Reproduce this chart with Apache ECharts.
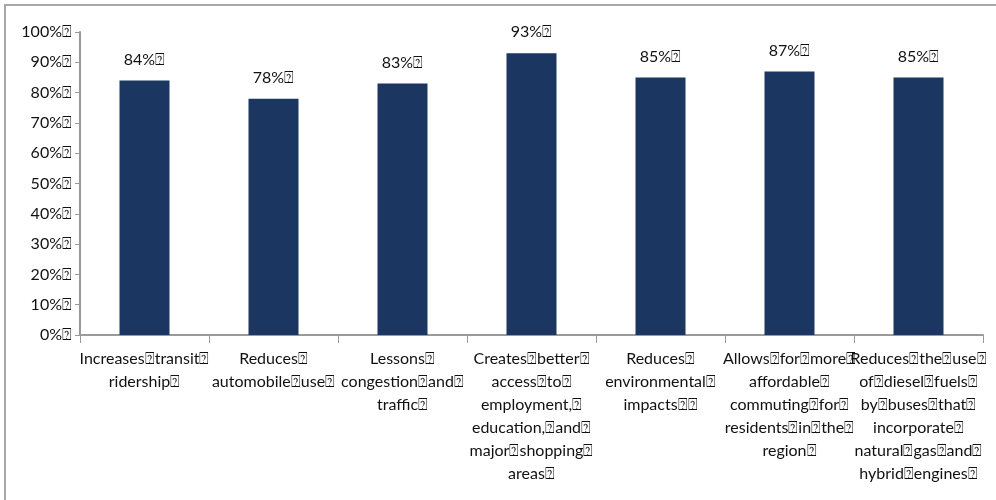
<!DOCTYPE html>
<html>
<head>
<meta charset="utf-8">
<script src="https://cdn.jsdelivr.net/npm/echarts@6/dist/echarts.min.js"></script>
<style>
html, body { margin: 0; padding: 0; background: #fff; }
#curve { width: 996px; height: 500px; }
</style>
</head>
<body>
<div id="curve"></div>
<script>
var Q = '\u2370';
// categories (the boxes are part of the original text)
var categories = [
	'Increases' + Q + 'transit' + Q + '\nridership' + Q,
	'Reduces' + Q + '\nautomobile' + Q + 'use' + Q,
	'Lessons' + Q + '\ncongestion' + Q + 'and' + Q + '\ntraffic' + Q,
	'Creates' + Q + 'better' + Q + '\naccess' + Q + 'to' + Q + '\nemployment,' + Q + '\neducation,' + Q + 'and' + Q + '\nmajor' + Q + 'shopping' + Q + '\nareas' + Q,
	'Reduces' + Q + '\nenvironmental' + Q + '\nimpacts' + Q + Q,
	'Allows' + Q + 'for' + Q + 'more' + Q + '\naffordable' + Q + '\ncommuting' + Q + 'for' + Q + '\nresidents' + Q + 'in' + Q + 'the' + Q + '\nregion' + Q,
	'Reduces' + Q + 'the' + Q + 'use' + Q + '\nof' + Q + 'diesel' + Q + 'fuels' + Q + '\nby' + Q + 'buses' + Q + 'that' + Q + '\nincorporate' + Q + '\nnatural' + Q + 'gas' + Q + 'and' + Q + '\nhybrid' + Q + 'engines' + Q
];
// percent agreeing
var values = [84, 78, 83, 93, 85, 87, 85];
var yTicks = [0, 10, 20, 30, 40, 50, 60, 70, 80, 90, 100];

var font = 'Lato, "Open Sans", sans-serif';
var myChart = echarts.init(document.getElementById('curve'));
var option = {
	animation: false,
	graphic: [{
		type: 'rect',
		shape: { x: 5, y: 5, width: 1000, height: 510 },
		style: { fill: 'none', stroke: '#a8a8a8', lineWidth: 2 }
	}],
	grid: {
		left: 80,
		right: 13,
		top: 32,
		bottom: 165
	},
	xAxis: {
		type: 'category',
		data: categories,
		axisLine: { lineStyle: { color: '#9a9a9a', width: 2 } },
		axisTick: { show: true, length: 8, lineStyle: { color: '#9a9a9a' } },
		axisLabel: {
			interval: 0,
			margin: 12,
			color: '#111',
			fontSize: 16,
			fontFamily: font,
			lineHeight: 23
		}
	},
	yAxis: {
		type: 'value',
		min: yTicks[0],
		max: yTicks[yTicks.length - 1],
		interval: 10,
		splitLine: { show: false },
		axisLine: { show: true, lineStyle: { color: '#9a9a9a', width: 2 } },
		axisTick: { show: true, length: 5, lineStyle: { color: '#9a9a9a' } },
		axisLabel: {
			margin: 8,
			color: '#111',
			fontSize: 16,
			fontFamily: font,
			formatter: function (v) { return v + '%' + Q; }
		}
	},
	series: [{
		type: 'bar',
		data: values,
		barWidth: 50,
		itemStyle: { color: '#1b3660' },
		label: {
			show: true,
			position: 'top',
			distance: 13,
			color: '#111',
			fontSize: 16,
			fontFamily: font,
			formatter: function (p) { return p.value + '%' + Q; }
		}
	}]
};
myChart.setOption(option);
</script>
</body>
</html>
